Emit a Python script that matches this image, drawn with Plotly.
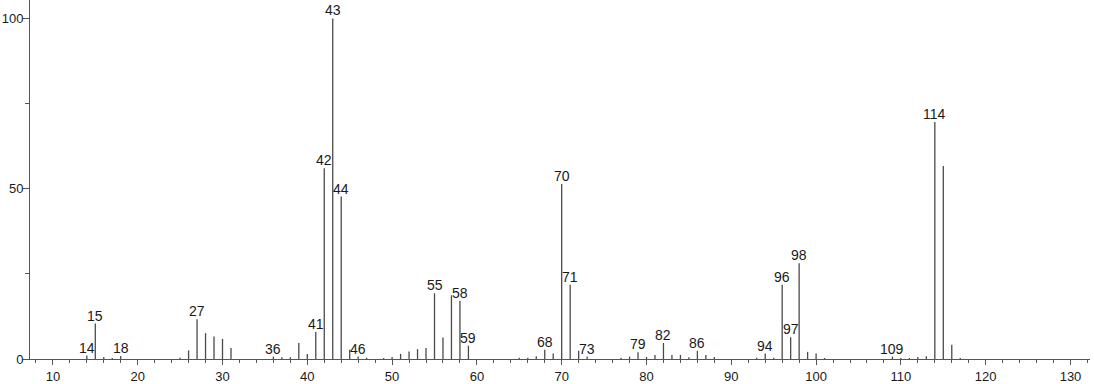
import plotly.graph_objects as go

# m/z values and relative intensities
mz = [14, 15, 16, 17, 18, 25, 26, 27, 28, 29, 30, 31, 36, 37, 38, 39, 40, 41, 42, 43,
      44, 45, 46, 47, 49, 50, 51, 52, 53, 54, 55, 56, 57, 58, 59, 65, 66, 67, 68, 69,
      70, 71, 72, 73, 77, 78, 79, 80, 81, 82, 83, 84, 85, 86, 87, 88, 93, 94, 95, 96,
      97, 98, 99, 100, 101, 109, 110, 111, 112, 113, 114, 115, 116, 117]
intensity = [1.0, 10.4, 0.6, 0.3, 0.9, 0.4, 2.5, 11.7, 7.6, 6.6, 5.9, 3.2, 0.7, 0.5, 0.5, 4.7, 1.5, 7.9, 56.0, 100.0,
             47.7, 2.7, 0.7, 0.4, 0.3, 0.6, 1.5, 2.2, 2.9, 3.2, 19.3, 6.3, 18.7, 17.1, 3.9, 0.4, 0.4, 0.8, 2.7, 1.6,
             51.4, 21.8, 2.4, 0.7, 0.4, 0.7, 2.0, 0.6, 1.2, 4.7, 1.2, 1.2, 0.5, 2.4, 1.2, 0.6, 0.4, 1.6, 0.4, 21.8,
             6.4, 28.1, 2.1, 1.6, 0.3, 0.7, 0.3, 0.3, 0.6, 0.8, 69.6, 56.7, 4.2, 0.3]

labeled = [14, 15, 18, 27, 36, 41, 42, 43, 44, 46, 55, 58, 59, 68, 70, 71, 73, 79, 82, 86,
           94, 96, 97, 98, 109, 114]

x_ticks = [10, 20, 30, 40, 50, 60, 70, 80, 90, 100, 110, 120, 130]
y_ticks = [0, 50, 100]

FONT = "Liberation Sans, Arial, sans-serif"
LINE = "#4a4a4a"
AXIS = "#555555"

xs, ys = [], []
for m, v in zip(mz, intensity):
    xs += [m, m, None]
    ys += [0, v, None]

fig = go.Figure()
fig.add_trace(go.Scatter(x=xs, y=ys, mode="lines",
                         line=dict(color=LINE, width=1.3),
                         hoverinfo="skip", showlegend=False))

lookup = dict(zip(mz, intensity))
for m in labeled:
    fig.add_annotation(x=m, y=lookup[m], text=str(m), showarrow=False,
                       xanchor="center", yanchor="bottom", yshift=-2,
                       font=dict(family=FONT, size=14, color="#1a1a1a"))

fig.update_layout(
    width=1094, height=384,
    margin=dict(l=30, r=4, t=0, b=25),
    paper_bgcolor="white", plot_bgcolor="white",
    showlegend=False,
    font=dict(family=FONT, size=13, color="#1a1a1a"),
)
fig.update_xaxes(
    range=[7.3, 132.3], showgrid=False, zeroline=False, automargin=False,
    showline=True, linecolor=AXIS, linewidth=1,
    tickmode="array", tickvals=x_ticks, ticktext=[str(t) for t in x_ticks],
    ticks="outside", ticklen=5, tickcolor=AXIS, tickwidth=1,
    minor=dict(dtick=2, tick0=0, ticks="outside", ticklen=3, tickcolor=AXIS, tickwidth=1),
    tickfont=dict(family=FONT, size=13, color="#1a1a1a"),
)
fig.update_yaxes(
    range=[0, 105.4], showgrid=False, zeroline=False, automargin=False,
    showline=True, linecolor=AXIS, linewidth=1,
    tickmode="array", tickvals=y_ticks, ticktext=[str(t) for t in y_ticks],
    ticks="outside", ticklen=6, tickcolor=AXIS, tickwidth=1,
    ticklabelstandoff=-3,
    minor=dict(dtick=25, tick0=0, ticks="outside", ticklen=4, tickcolor=AXIS, tickwidth=1),
    tickfont=dict(family=FONT, size=13, color="#1a1a1a"),
)

fig.write_html("out.html")
